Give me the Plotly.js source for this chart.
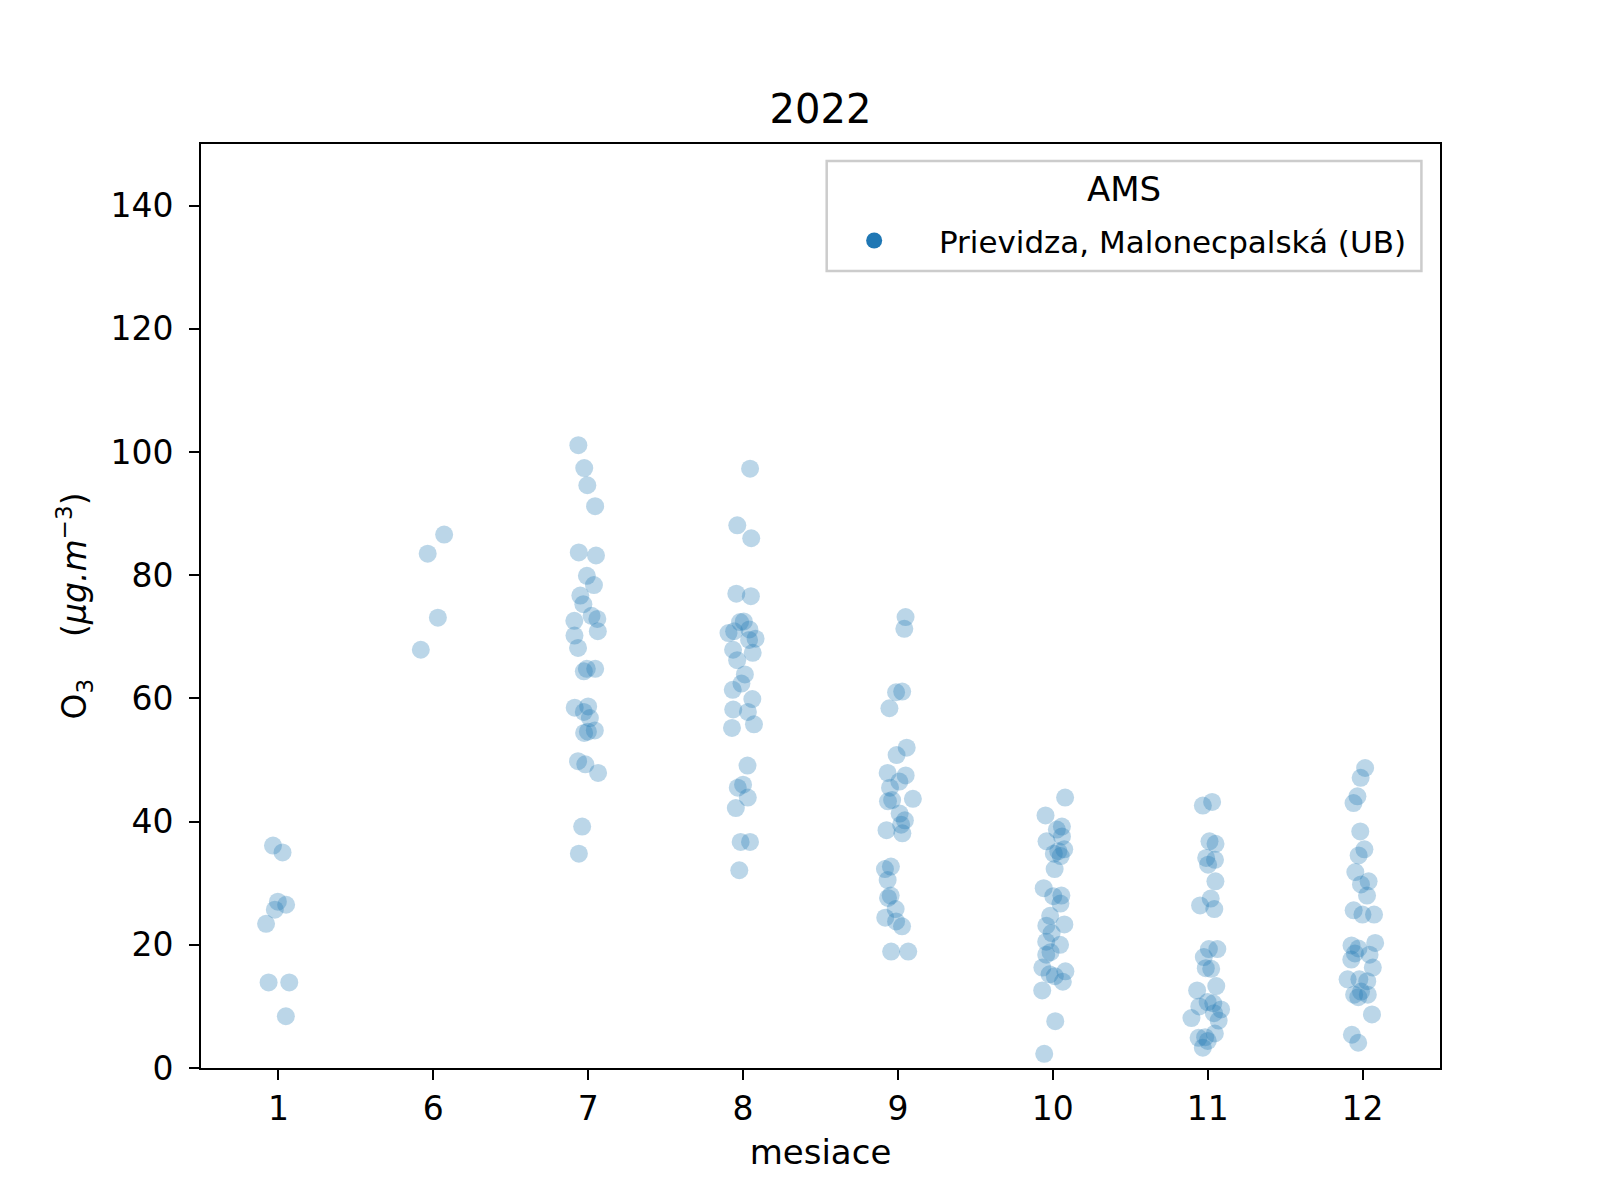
<!DOCTYPE html>
<html>
<head>
<meta charset="utf-8">
<script src="https://cdn.plot.ly/plotly-3.0.1.min.js"></script>
<style>html,body{margin:0;padding:0;background:#fff;}#chart{width:1600px;height:1200px;}</style>
</head>
<body>
<div id="chart"></div>
<script>
const months = ["1", "6", "7", "8", "9", "10", "11", "12"];
const m1 = [36.1, 35.0, 27.0, 26.5, 25.7, 23.4, 13.9, 13.9, 8.4];
const m6 = [86.6, 83.5, 73.1, 67.9];
const m7 = [101.1, 97.4, 94.6, 91.2, 83.7, 83.2, 79.9, 78.4, 76.7, 75.3, 73.4, 72.9, 72.6, 70.9, 70.2, 68.2, 64.8, 64.8, 64.4, 58.7, 58.5, 57.8, 56.8, 54.8, 54.6, 54.4, 49.8, 49.3, 47.9, 39.2, 34.8];
const m8 = [97.3, 88.1, 86.0, 77.0, 76.6, 72.5, 72.4, 71.2, 70.9, 70.6, 69.7, 69.5, 67.9, 67.4, 66.2, 63.9, 62.4, 61.4, 59.9, 58.2, 57.8, 55.8, 55.2, 49.1, 46.0, 45.5, 43.9, 42.2, 36.7, 36.7, 32.1];
const m9 = [73.2, 71.3, 61.1, 61.0, 58.4, 52.0, 50.8, 47.9, 47.5, 46.5, 45.5, 43.7, 43.5, 43.3, 41.3, 40.2, 39.5, 38.6, 38.1, 32.7, 32.3, 30.5, 28.0, 27.6, 25.8, 24.4, 23.8, 23.0, 18.9, 18.9];
const m10 = [43.9, 41.0, 39.2, 38.7, 37.6, 36.8, 35.5, 35.2, 34.8, 34.4, 32.3, 29.2, 27.9, 28.0, 26.7, 24.7, 23.1, 23.3, 21.9, 20.0, 20.5, 18.8, 18.4, 16.3, 15.7, 14.9, 15.2, 14.0, 12.6, 7.6, 2.3];
const m11 = [42.6, 43.2, 36.4, 36.8, 34.1, 33.8, 33.0, 30.3, 27.5, 26.4, 25.8, 19.3, 19.3, 18.0, 16.2, 16.1, 13.3, 12.6, 10.7, 10.0, 10.5, 9.5, 8.9, 8.1, 7.7, 5.6, 4.9, 5.0, 4.4, 3.3];
const m12 = [48.7, 47.1, 44.1, 43.0, 38.4, 35.5, 34.5, 31.8, 30.3, 29.8, 28.0, 25.6, 24.9, 24.9, 20.3, 19.4, 19.9, 18.6, 18.4, 17.6, 16.3, 14.4, 14.4, 14.1, 12.4, 11.9, 11.9, 11.5, 8.7, 5.4, 4.1];
const stationName = "Prievidza, Malonecpalská (UB)";
const legendTitle = "AMS";
const chartTitle = "2022";
const yTicks = [0, 20, 40, 60, 80, 100, 120, 140];

const series = [m1, m6, m7, m8, m9, m10, m11, m12];
const xs = [], ys = [];
series.forEach((arr, i) => arr.forEach(v => { xs.push(months[i]); ys.push(v); }));

const font = "DejaVu Sans, sans-serif";
const blue = "#1f77b4";

const traces = [
  {
    type: "box",
    x: xs, y: ys,
    boxpoints: "all", jitter: 0.45, pointpos: 0,
    fillcolor: "rgba(0,0,0,0)",
    line: {width: 0, color: "rgba(0,0,0,0)"},
    whiskerwidth: 0,
    marker: {color: "rgba(31,119,180,0.3)", size: 18, line: {width: 0}},
    showlegend: false,
    hoveron: "points"
  },
  {
    type: "scatter", mode: "markers",
    x: [null], y: [null],
    name: "\u00a0\u00a0" + stationName,
    marker: {color: blue, size: 22},
    showlegend: true
  }
];

const layout = {
  width: 1600, height: 1200,
  paper_bgcolor: "#fff", plot_bgcolor: "#fff",
  margin: {l: 201, r: 160, t: 144, b: 132},
  font: {family: font, size: 33, color: "#000"},
  title: {text: chartTitle, font: {family: font, size: 40, color: "#000"}, xref: "paper", x: 0.5, xanchor: "center", y: 1 - 109/1200, yanchor: "middle"},
  xaxis: {
    type: "category", categoryorder: "array", categoryarray: months,
    range: [-0.5, 7.5],
    showgrid: false, zeroline: false,
    showline: true, linecolor: "#000", linewidth: 2, mirror: true,
    ticks: "outside", ticklen: 10, tickwidth: 2, tickcolor: "#000",
    tickfont: {family: font, size: 33, color: "#000"},
    title: {text: "mesiace", font: {family: font, size: 34, color: "#000"}, standoff: 14}
  },
  yaxis: {
    range: [0, 150],
    tickvals: yTicks,
    showgrid: false, zeroline: false,
    showline: true, linecolor: "#000", linewidth: 2, mirror: true,
    ticks: "outside", ticklen: 10, tickwidth: 2, tickcolor: "#000",
    ticklabelstandoff: 9,
    tickfont: {family: font, size: 33, color: "#000"},
    title: {text: "O<sub>3</sub>    (<i>μg.m</i><sup>−3</sup>)", font: {family: font, size: 33, color: "#000"}, standoff: 14}
  },
  shapes: [
    {type: "rect", xref: "paper", yref: "paper", x0: 0.505, x1: 0.985, y0: 0.8626, y1: 0.9816,
     line: {color: "#cccccc", width: 2.5}, fillcolor: "rgba(255,255,255,0.8)", layer: "above"}
  ],
  annotations: [
    {text: legendTitle, xref: "paper", yref: "paper", x: 0.745, y: 0.9515, xanchor: "center", yanchor: "middle",
     showarrow: false, font: {family: font, size: 34, color: "#000"}}
  ],
  legend: {
    x: 0.507, xanchor: "left", y: 0.8952, yanchor: "middle",
    bgcolor: "rgba(0,0,0,0)",
    borderwidth: 0,
    font: {family: font, size: 31, color: "#000"},
    itemwidth: 80, itemsizing: "trace"
  },
  showlegend: true
};

Plotly.newPlot("chart", traces, layout, {displayModeBar: false, staticPlot: true});
</script>
</body>
</html>
